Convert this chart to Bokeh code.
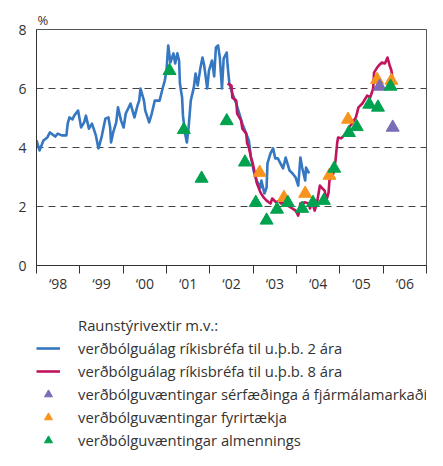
from bokeh.plotting import figure
from bokeh.layouts import column
from bokeh.models import FixedTicker, Legend, LegendItem
from bokeh.embed import file_html
from bokeh.resources import INLINE

# ---- data ----
blue_x = [1998.00, 1998.07, 1998.16, 1998.25, 1998.31, 1998.43, 1998.49, 1998.58, 1998.69, 1998.72,
          1998.76, 1998.83, 1998.87, 1998.96, 1999.03, 1999.10, 1999.14, 1999.21, 1999.28, 1999.37,
          1999.43, 1999.50, 1999.59, 1999.66, 1999.70, 1999.72, 1999.77, 1999.84, 1999.88, 1999.95,
          2000.01, 2000.06, 2000.17, 2000.26, 2000.33, 2000.37, 2000.40, 2000.48, 2000.51, 2000.60,
          2000.66, 2000.73, 2000.84, 2000.91, 2000.96, 2001.00, 2001.04, 2001.09, 2001.16, 2001.20,
          2001.25, 2001.29, 2001.31, 2001.36, 2001.38, 2001.43, 2001.47, 2001.51, 2001.56, 2001.63,
          2001.67, 2001.72, 2001.78, 2001.83, 2001.87, 2001.94, 2001.98, 2002.05, 2002.10, 2002.14,
          2002.19, 2002.23, 2002.28, 2002.32, 2002.39, 2002.41, 2002.45, 2002.52, 2002.61, 2002.68,
          2002.75, 2002.84, 2002.90, 2002.95, 2003.01, 2003.08, 2003.17, 2003.19, 2003.26, 2003.31,
          2003.33, 2003.40, 2003.46, 2003.51, 2003.57, 2003.62, 2003.69, 2003.75, 2003.84, 2003.91,
          2003.98, 2004.04, 2004.09, 2004.13, 2004.20, 2004.22, 2004.29]
blue_y = [4.24, 3.90, 4.24, 4.34, 4.51, 4.37, 4.47, 4.41, 4.41, 4.81,
          5.02, 4.95, 5.08, 5.25, 4.68, 4.85, 5.08, 4.64, 4.81, 4.41,
          3.97, 4.34, 4.98, 5.02, 4.68, 4.17, 4.51, 4.85, 5.36, 4.92,
          4.68, 5.15, 5.49, 5.02, 5.42, 5.59, 6.00, 5.59, 5.25, 4.85,
          5.15, 5.59, 5.59, 6.00, 6.27, 6.61, 7.46, 6.88, 7.19, 6.85,
          7.19, 6.95, 6.17, 5.69, 5.08, 4.47, 4.17, 4.68, 5.59, 6.03,
          6.51, 6.10, 6.68, 7.05, 6.78, 6.00, 6.61, 6.95, 6.41, 7.39,
          7.46, 7.05, 6.00, 7.02, 7.22, 6.78, 6.17, 5.83, 5.49, 5.15,
          4.81, 4.47, 4.24, 3.66, 3.22, 2.88, 2.64, 2.88, 2.44, 2.64,
          3.46, 3.80, 3.97, 3.63, 3.63, 3.49, 3.29, 3.66, 3.22, 3.12,
          2.98, 2.71, 3.66, 3.32, 2.88, 3.32, 3.12]

red_x = [2002.41, 2002.50, 2002.52, 2002.61, 2002.63, 2002.72, 2002.75, 2002.84, 2002.86, 2002.90,
         2002.95, 2002.99, 2003.06, 2003.08, 2003.17, 2003.24, 2003.31, 2003.40, 2003.44, 2003.53,
         2003.60, 2003.64, 2003.73, 2003.80, 2003.91, 2003.98, 2004.04, 2004.09, 2004.20, 2004.29,
         2004.31, 2004.36, 2004.42, 2004.47, 2004.54, 2004.60, 2004.65, 2004.69, 2004.74, 2004.76,
         2004.85, 2004.90, 2004.94, 2004.96, 2005.03, 2005.10, 2005.16, 2005.21, 2005.30, 2005.37,
         2005.43, 2005.52, 2005.59, 2005.63, 2005.70, 2005.77, 2005.79, 2005.86, 2005.90, 2005.97,
         2006.04, 2006.08, 2006.10, 2006.15, 2006.19, 2006.22]
red_y = [6.17, 6.10, 5.69, 5.59, 5.15, 4.92, 4.64, 4.47, 4.14, 4.00,
         3.66, 3.46, 2.98, 2.81, 2.47, 2.31, 2.20, 2.10, 2.27, 2.14,
         2.20, 2.10, 2.14, 2.03, 1.93, 1.86, 1.69, 2.10, 2.14, 2.10,
         1.93, 2.14, 1.86, 2.10, 2.71, 2.61, 2.54, 2.20, 2.47, 2.88,
         3.12, 3.56, 4.17, 4.34, 4.31, 4.41, 4.47, 4.68, 4.85, 5.02,
         5.36, 5.49, 5.66, 5.76, 5.69, 6.00, 6.54, 6.71, 6.78, 6.88,
         6.85, 6.98, 7.05, 6.78, 6.61, 6.27]

purple_x = [2005.92, 2006.22]
purple_y = [6.07, 4.68]

orange_x = [2003.15, 2003.71, 2004.20, 2004.76, 2005.19, 2005.86, 2006.19]
orange_y = [3.15, 2.30, 2.44, 3.05, 4.95, 6.30, 6.27]

green_x = [2001.07, 2001.40, 2001.81, 2002.39, 2002.81, 2003.06, 2003.31, 2003.55, 2003.80,
           2004.13, 2004.38, 2004.63, 2004.87, 2005.21, 2005.39, 2005.68, 2005.88, 2006.17]
green_y = [6.60, 4.60, 2.95, 4.90, 3.50, 2.13, 1.53, 1.90, 2.13,
           1.93, 2.13, 2.20, 3.29, 4.50, 4.70, 5.46, 5.36, 6.07]

year_ticks = [1998.5, 1999.5, 2000.5, 2001.5, 2002.5, 2003.5, 2004.5, 2005.5, 2006.5]
year_labels = ["‘98", "‘99", "‘00", "‘01", "‘02", "‘03", "‘04", "‘05", "‘06"]
year_bounds = [1998, 1999, 2000, 2001, 2002, 2003, 2004, 2005, 2006, 2007]
y_ticks = [0, 2, 4, 6, 8]

unit_label = "%"
legend_title = "Raunstýrivextir m.v.:"
names = ["verðbólguálag ríkisbréfa til u.þ.b. 2 ára",
         "verðbólguálag ríkisbréfa til u.þ.b. 8 ára",
         "verðbólguvæntingar sérfæðinga á fjármálamarkaði",
         "verðbólguvæntingar fyrirtækja",
         "verðbólguvæntingar almennings"]

BLUE = "#3577c1"
RED = "#c0145c"
PURPLE = "#7a6cb6"
ORANGE = "#f7941d"
GREEN = "#00a24f"
TXT = "#333333"
FONT = "Open Sans"

# ---------------- chart ----------------
p = figure(width=427, height=302, output_backend="svg", toolbar_location=None,
           x_range=(1998, 2007), y_range=(0, 8),
           min_border_left=36, min_border_right=1, min_border_top=29, min_border_bottom=37)
p.outline_line_color = "#555555"
p.outline_line_width = 1
p.background_fill_color = "white"
p.border_fill_color = "white"

p.title.text = unit_label
p.title.align = "left"
p.title.vertical_align = "bottom"
p.title.standoff = 2
p.title.offset = 1
p.title.text_font = FONT
p.title.text_font_size = "13px"
p.title.text_font_style = "normal"
p.title.text_color = TXT

p.xgrid.visible = False
p.ygrid.ticker = FixedTicker(ticks=[2, 4, 6])
p.ygrid.grid_line_color = "#444444"
p.ygrid.grid_line_dash = "7 5"
p.ygrid.grid_line_width = 1

xa = p.xaxis[0]
xa.ticker = FixedTicker(ticks=year_ticks, minor_ticks=year_bounds)
xa.major_label_overrides = {t: l for t, l in zip(year_ticks, year_labels)}
xa.major_tick_out = 0
xa.major_tick_in = 0
xa.minor_tick_out = 8
xa.minor_tick_in = 0
xa.minor_tick_line_color = "#333333"
xa.axis_line_color = "#333333"
xa.major_label_standoff = 0
xa.major_label_text_font = FONT
xa.major_label_text_font_size = "14px"
xa.major_label_text_color = TXT

ya = p.yaxis[0]
ya.ticker = FixedTicker(ticks=y_ticks)
ya.major_tick_out = 0
ya.major_tick_in = 0
ya.minor_tick_out = 0
ya.minor_tick_in = 0
ya.axis_line_color = "#333333"
ya.major_label_standoff = 10
ya.major_label_text_font = FONT
ya.major_label_text_font_size = "14px"
ya.major_label_text_color = TXT

p.line(blue_x, blue_y, line_color=BLUE, line_width=2.6, line_join="round")
p.line(red_x, red_y, line_color=RED, line_width=2.6, line_join="round")
p.scatter(orange_x, orange_y, marker="triangle", size=13, fill_color=ORANGE, line_color=ORANGE)
p.scatter(purple_x, purple_y, marker="triangle", size=13, fill_color=PURPLE, line_color=PURPLE)
p.scatter(green_x, green_y, marker="triangle", size=13, fill_color=GREEN, line_color=GREEN)

# ---------------- legend panel ----------------
q = figure(width=427, height=148, output_backend="svg", toolbar_location=None,
           x_range=(0, 1), y_range=(0, 1),
           min_border_left=36, min_border_right=1, min_border_top=13, min_border_bottom=0)
q.axis.visible = False
q.grid.visible = False
q.outline_line_alpha = 0
q.background_fill_color = "white"
q.border_fill_color = "white"

# legend sample glyphs: one point each, placed outside the visible range
off = [5.0]
k_title = q.line(x=off, y=off, line_alpha=0)
k_blue = q.line(x=off, y=off, line_color=BLUE, line_width=2.6)
k_red = q.line(x=off, y=off, line_color=RED, line_width=2.6)
k_purple = q.scatter(x=off, y=off, marker="triangle", fill_color=PURPLE, line_color=PURPLE)
k_orange = q.scatter(x=off, y=off, marker="triangle", fill_color=ORANGE, line_color=ORANGE)
k_green = q.scatter(x=off, y=off, marker="triangle", fill_color=GREEN, line_color=GREEN)

legend = Legend(items=[
    LegendItem(label=legend_title, renderers=[k_title]),
    LegendItem(label=names[0], renderers=[k_blue]),
    LegendItem(label=names[1], renderers=[k_red]),
    LegendItem(label=names[2], renderers=[k_purple]),
    LegendItem(label=names[3], renderers=[k_orange]),
    LegendItem(label=names[4], renderers=[k_green]),
], location="top_left")
legend.padding = 0
legend.margin = 0
legend.spacing = 3
legend.glyph_width = 24
legend.glyph_height = 20
legend.label_height = 20
legend.label_standoff = 18
legend.border_line_alpha = 0
legend.background_fill_alpha = 0
legend.label_text_font = FONT
legend.label_text_font_size = "14.8px"
legend.label_text_color = TXT
q.add_layout(legend, "center")

layout = column(p, q, spacing=0)
open("out.html", "w").write(file_html(layout, INLINE))
